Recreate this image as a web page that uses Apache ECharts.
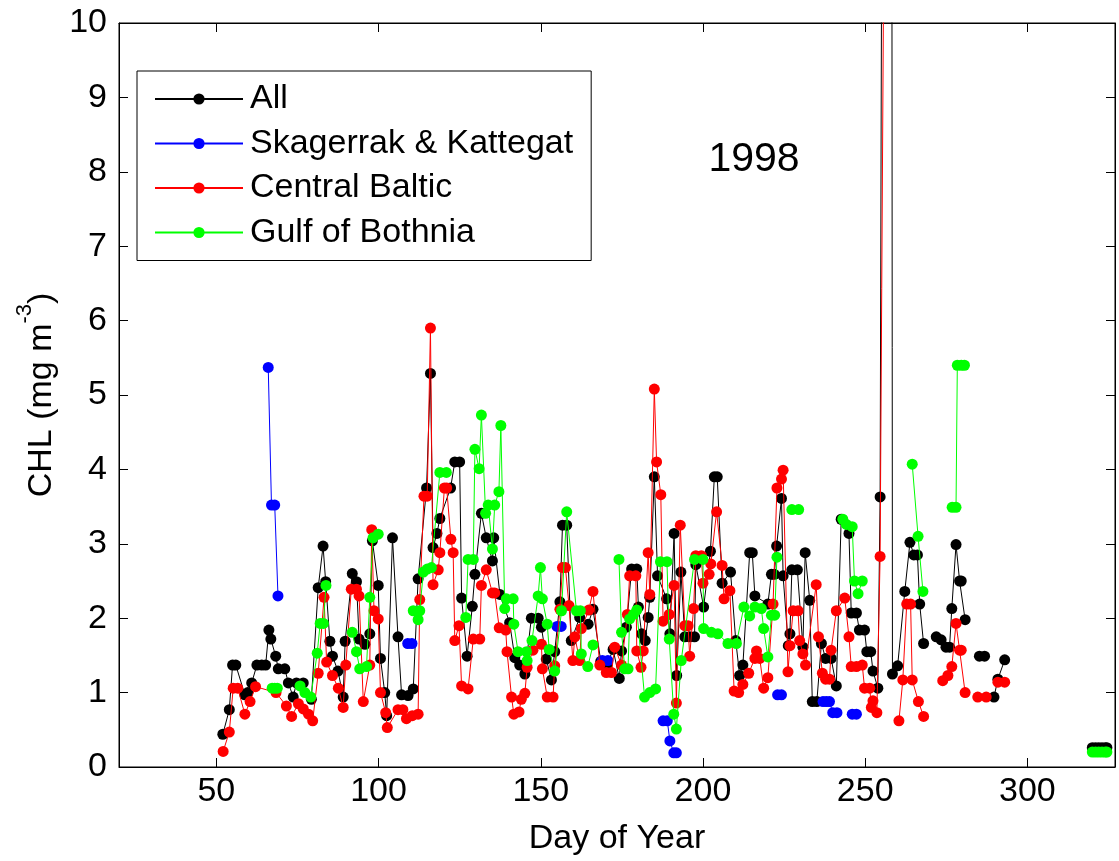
<!DOCTYPE html>
<html>
<head>
<meta charset="utf-8">
<script src="https://cdn.jsdelivr.net/npm/echarts@6/dist/echarts.min.js"></script>
<style>html,body{margin:0;padding:0;background:#fff;}#c{width:1119px;height:861px;}</style>
</head>
<body>
<div id="c"></div>
<script>
// ---- data: [day of year, CHL mg m^-3]; null = gap in the record ----
const xTicks = [50, 100, 150, 200, 250, 300];
const yTicks = [0,1,2,3,4,5,6,7,8,9,10];
const seriesNames = ['All', 'Skagerrak & Kattegat', 'Central Baltic', 'Gulf of Bothnia'];
const yearLabel = '1998';

const allData = [[52,0.44],[54,0.77],[55,1.37],[56,1.37],[58.8,0.97],[59.7,1.0],[60.9,1.13],[62.5,1.37],[64,1.37],[65.2,1.37],[66.2,1.84],[66.8,1.72],[68.3,1.49],[69.1,1.32],[71.1,1.32],[72.2,1.13],[73.7,0.94],[74.7,1.13],[76.8,1.13],[79.3,0.91],[81.4,2.41],[82.9,2.97],[83.7,2.49],[85,1.69],[85.8,1.49],[87.5,1.29],[89.1,0.94],[89.7,1.69],[91.9,2.6],[93.2,2.49],[94,1.72],[95.8,1.65],[97.3,1.79],[98.1,3.04],[99.9,2.44],[100.6,1.46],[101.9,1.0],[102.5,0.69],[104.3,3.08],[106,1.75],[107.1,0.97],[109.1,0.96],[110.7,1.05],[112.2,2.53],[114.8,3.75],[116,5.29],[116.8,2.95],[118,3.14],[118.9,3.34],[122.2,3.75],[123.5,4.1],[125,4.1],[125.6,2.27],[127.3,1.49],[128.9,2.16],[129.7,2.59],[131.7,3.41],[133.2,3.08],[135.1,2.77],[135.5,3.08],[137.4,2.32],[140.4,1.94],[142,1.47],[143.5,1.37],[145.1,1.25],[147.1,2.0],[149.2,2.0],[150.2,1.88],[151.7,1.45],[153.3,1.17],[154.3,1.55],[155.9,2.22],[156.7,3.25],[158,3.25],[159.4,1.7],[162,2.01],[164.6,1.92],[166.1,2.12],[168.5,1.42],[170.5,1.38],[172.3,1.58],[174.2,1.19],[174.9,1.56],[176.4,1.88],[178,2.66],[179.6,2.66],[180.1,2.15],[181.1,1.79],[182.2,1.7],[183.1,2.01],[183.6,2.28],[185,3.9],[186,2.57],[188.8,2.26],[189.8,1.79],[191.1,3.14],[191.9,1.23],[193.2,2.62],[194.4,1.75],[195.9,1.75],[197.4,1.75],[197.8,2.72],[200.2,2.15],[202.3,2.9],[203.5,3.9],[204.4,3.9],[205.9,2.47],[208.5,2.62],[210.1,1.7],[211.3,1.23],[212.3,1.37],[214.4,2.88],[215.2,2.88],[216,2.3],[220,2.19],[221.1,2.59],[222,2.59],[222.7,2.97],[224.2,3.61],[224.7,2.57],[226.3,1.63],[226.8,1.79],[227.4,2.65],[229.1,2.65],[230.8,1.61],[231.5,2.88],[232.9,2.24],[233.7,0.88],[235.1,0.88],[236.5,1.66],[237.8,1.46],[239.5,1.46],[241.1,1.09],[242.6,3.33],[245,3.14],[245.7,2.07],[247.3,2.07],[248.2,1.84],[249.8,1.84],[250.5,1.55],[251.7,1.55],[252.4,1.29],[253.9,1.06],[254.6,3.63],[257.6,51],[258.4,1.25],[260,1.36],[262.2,2.36],[263.8,3.02],[265,2.85],[266.1,2.85],[266.8,2.19],[268,1.66],null,[271.9,1.75],[273.4,1.71],[274.9,1.61],[276,1.61],[276.7,2.13],[278,2.99],[279.1,2.5],[279.6,2.5],[280.8,1.98],null,[285.2,1.49],[286.8,1.49],null,[289.7,0.94],[290.9,1.18],[293,1.44],null,[320,0.26],[321,0.26],[322,0.26],[323,0.26],[324,0.26],[324.5,0.26]];

const skData = [[66,5.37],[67,3.52],[68,3.52],[69,2.3],null,[109,1.66],[110.3,1.66],null,[155,1.89],[156.3,1.89],null,[169,1.43],[170.7,1.43],null,[187.7,0.62],[189,0.62],[189.8,0.35],[191,0.19],[191.8,0.19],null,[223,0.97],[224.2,0.97],null,[237,0.88],[238,0.88],[239,0.88],[240,0.73],[241.3,0.73],null,[246,0.71],[247.3,0.71]];

const cbData = [[52.1,0.21],[54,0.47],[55.2,1.06],[56.6,1.06],[58.8,0.71],[60.4,0.88],[62.1,1.08],[68.4,1.0],[71.6,0.82],[73.2,0.68],[75.3,0.85],[76.8,0.78],[78.4,0.71],[79.7,0.62],[81.4,1.26],[83.2,2.28],[84,1.41],[85.8,1.23],[87.6,1.06],[89.1,0.8],[89.9,1.37],[91.6,2.39],[93.2,2.39],[94,2.3],[95.3,0.88],[97.3,1.37],[97.9,3.19],[98.6,2.1],[99.9,1.99],[100.6,1.0],[102.2,0.73],[102.7,0.53],[106,0.77],[107.5,0.77],[108.6,0.65],[110.4,0.69],[112.2,0.71],[112.7,2.25],[114,3.64],[115,3.64],[116,5.9],[116.8,2.45],[118.4,2.65],[118.9,2.88],[120.3,3.75],[121,3.75],[122.3,3.06],[123,2.88],[123.5,1.7],[124.8,1.9],[125.6,1.09],[127.6,1.05],[129.2,1.72],[131.2,1.72],[131.7,2.44],[133.2,2.65],[135.1,2.34],[135.8,2.34],[137.2,1.87],[139.2,1.84],[139.6,1.55],[141,0.94],[141.7,0.71],[143.3,0.74],[144,0.91],[145.1,0.99],[145.8,1.34],[147.6,1.57],[150.2,1.65],[150.5,1.32],[152,0.94],[153.8,0.94],[154.3,1.36],[155.9,2.12],[156.7,2.68],[157.6,2.68],[158.7,2.17],[159.9,1.43],[160.5,1.75],[162,1.43],[162.5,1.86],[164.8,2.11],[166.1,2.36],[168.2,1.37],[170.2,1.27],[171.8,1.27],[172.8,1.61],[174.9,1.37],[176.7,2.05],[177.4,2.57],[179.3,2.57],[179.6,1.56],[180.9,1.34],[181.6,1.56],[183.1,2.88],[183.6,2.32],[185,5.08],[185.7,4.1],[187,3.66],[187.7,1.96],[189.6,2.05],[191.1,2.44],[191.8,0.86],[193,3.25],[194.4,1.9],[195.4,1.9],[195.9,1.49],[197.1,2.13],[197.8,2.84],[199.5,2.84],[200,2.47],[201.9,2.59],[202.4,2.73],[204.2,3.43],[205.9,2.71],[206.5,2.26],[208.3,2.37],[209.6,1.02],[211,1.0],[212.3,1.11],[214.1,1.26],[216,1.46],[216.5,1.56],[217.5,1.46],[218.7,1.06],[220,1.2],[221.6,2.19],[222.8,3.75],[224.2,3.87],[224.7,3.99],[226.2,1.28],[226.8,1.63],[227.8,2.1],[229.3,2.1],[229.8,1.7],[230.8,1.52],[231.6,1.37],[234.9,2.45],[235.6,1.75],[236.8,1.26],[237.8,1.18],[239,1.18],[239.5,1.57],[241.1,2.1],[243.7,2.27],[245,1.75],[245.7,1.35],[247.3,1.35],[249.1,1.37],[249.8,1.06],[251.4,1.06],[251.9,0.8],[252.4,0.89],[253.6,0.73],[254.6,2.83],[255.8,11.5],null,[260.4,0.62],[261.6,1.17],[262.8,2.19],[264,2.19],[264.5,1.17],[266.4,0.88],[268,0.68],null,[273.9,1.16],[275.5,1.23],[276.7,1.35],[278,1.93],[279.1,1.57],[279.6,1.57],[280.8,1.0],null,[284.7,0.94],[287.3,0.94],null,[290.9,1.14],[293,1.14]];

const gbData = [[67.2,1.06],[68,1.06],[68.8,1.06],null,[75.8,1.09],[77.3,1.0],[79.1,0.94],[81.1,1.53],[82,1.93],[83,1.93],[83.8,2.44],null,[91.9,1.81],[93.2,1.55],[94.2,1.32],[96.3,1.35],[97.3,2.28],[98.3,3.08],[99.9,3.13],null,[110.7,2.1],[112.2,1.98],[112.7,2.1],[113.8,2.62],[115,2.66],[116.3,2.68],[118.9,3.96],[120.9,3.96],null,[126.9,2.01],[127.6,2.79],[129.2,2.79],[129.7,4.27],[131,4.01],[131.7,4.73],[133,3.41],[133.8,3.52],[135.1,2.93],[135.8,3.52],[137.1,3.7],[137.7,4.59],[138.9,2.13],[139.4,2.26],[141.5,2.26],[141.7,1.92],[143,1.55],[145.6,1.55],[145.8,1.43],[147.3,1.7],[149.2,2.3],[149.9,2.68],[150.5,2.26],[152,1.92],[152.6,1.58],[154.3,1.29],[156.4,2.1],[158,3.43],[161,2.1],[162.2,2.1],[162.5,1.52],[164.5,1.35],[166.1,1.64],null,[174.1,2.79],[174.9,1.81],[175.9,1.32],[176.9,1.32],[177.4,1.99],[178.6,2.05],[179.6,2.11],[182,0.94],[183.6,1.0],[185.4,1.05],[186.9,2.76],[188.9,2.76],[189.6,1.72],[191,0.71],[191.8,0.51],[193.3,1.43],[197.4,2.79],[200,2.79],[200.2,1.86],[202.6,1.81],[204.6,1.79],[207.7,1.66],[210.3,1.66],[212.6,2.15],[214.4,2.03],[216,2.15],[218,2.13],[218.7,1.86],[220,1.48],[221.1,2.04],[222.1,2.04],[222.8,2.82],null,[227.4,3.46],[229.5,3.46],null,[243.1,3.33],[244.2,3.26],[246,3.23],[246.7,2.5],[247.8,2.33],[249.1,2.5],null,[264.5,4.07],[266.3,3.1],[267.8,2.36],null,[276.8,3.49],[278,3.49],[278.4,5.4],[279.6,5.4],[280.6,5.4],null,[320,0.2],[321,0.2],[322,0.2],[323,0.2],[324,0.2],[324.5,0.2]];

const colors = ['#000000', '#0000ff', '#ff0000', '#00ff00'];
const FONT = '"Liberation Sans", Arial, sans-serif';

function prep(d) { return d.map(p => p === null ? ['-', '-'] : p); }

const chart = echarts.init(document.getElementById('c'), null, {renderer: 'canvas'});
const dataSets = [allData, skData, cbData, gbData];

const series = dataSets.map((d, i) => ({
  name: seriesNames[i],
  type: 'line',
  data: prep(d),
  xAxisIndex: 0, yAxisIndex: 0,
  symbol: 'circle',
  symbolSize: 11,
  showAllSymbol: true,
  connectNulls: false,
  clip: true,
  lineStyle: {color: colors[i], width: 1},
  itemStyle: {color: colors[i], borderWidth: 0},
  emphasis: {disabled: true},
  z: 2 + i
}));

const tickCommon = {show: true, inside: true, length: 9, lineStyle: {color: '#000', width: 1}};

chart.setOption({
  animation: false,
  backgroundColor: '#fff',
  textStyle: {fontFamily: FONT},
  grid: {left: 119, right: 4, top: 23, bottom: 93, show: true, borderColor: '#000', borderWidth: 1, backgroundColor: '#fff'},
  legend: {
    orient: 'vertical',
    left: 137, top: 71,
    padding: [11, 18, 11, 17],
    itemWidth: 88, itemHeight: 14, itemGap: 10.5,
    borderColor: '#000', borderWidth: 1, backgroundColor: '#fff',
    textStyle: {fontSize: 34, color: '#000', fontFamily: FONT, lineHeight: 34, padding: [0, 0, 0, 2]},
    data: seriesNames,
    selectedMode: false
  },
  xAxis: [{
    type: 'value', min: 20, max: 327, position: 'bottom',
    axisLine: {show: true, onZero: false, lineStyle: {color: '#000', width: 1}},
    axisTick: Object.assign({customValues: xTicks}, tickCommon),
    axisLabel: {customValues: xTicks, fontSize: 34, color: '#000', fontFamily: FONT, margin: 8},
    splitLine: {show: false},
    name: 'Day of Year', nameLocation: 'middle', nameGap: 55,
    nameTextStyle: {fontSize: 34, color: '#000', fontFamily: FONT}
  }, {
    type: 'value', min: 20, max: 327, position: 'top',
    axisLine: {show: true, onZero: false, lineStyle: {color: '#000', width: 1}},
    axisTick: Object.assign({customValues: xTicks}, tickCommon),
    axisLabel: {show: false},
    splitLine: {show: false}
  }],
  yAxis: [{
    type: 'value', min: 0, max: 10, interval: 1, position: 'left',
    axisLine: {show: true, onZero: false, lineStyle: {color: '#000', width: 1}},
    axisTick: tickCommon,
    axisLabel: {fontSize: 34, color: '#000', fontFamily: FONT, margin: 12},
    splitLine: {show: false},
    name: '{a|CHL (mg m}{b|-3}{a|)}', nameLocation: 'middle', nameGap: 60, nameRotate: 90,
    nameTextStyle: {
      color: '#000',
      rich: {
        a: {fontSize: 34, color: '#000', fontFamily: FONT, lineHeight: 44, verticalAlign: 'bottom'},
        b: {fontSize: 22, color: '#000', fontFamily: FONT, lineHeight: 44, verticalAlign: 'top'}
      }
    }
  }, {
    type: 'value', min: 0, max: 10, interval: 1, position: 'right',
    axisLine: {show: true, onZero: false, lineStyle: {color: '#000', width: 1}},
    axisTick: tickCommon,
    axisLabel: {show: false},
    splitLine: {show: false}
  }],
  graphic: [{
    type: 'text', x: 754, y: 160, z: 100,
    style: {text: yearLabel, fontSize: 41, fontFamily: FONT, fill: '#000', textAlign: 'center', textVerticalAlign: 'middle'}
  }],
  series: series
});
</script>
</body>
</html>
